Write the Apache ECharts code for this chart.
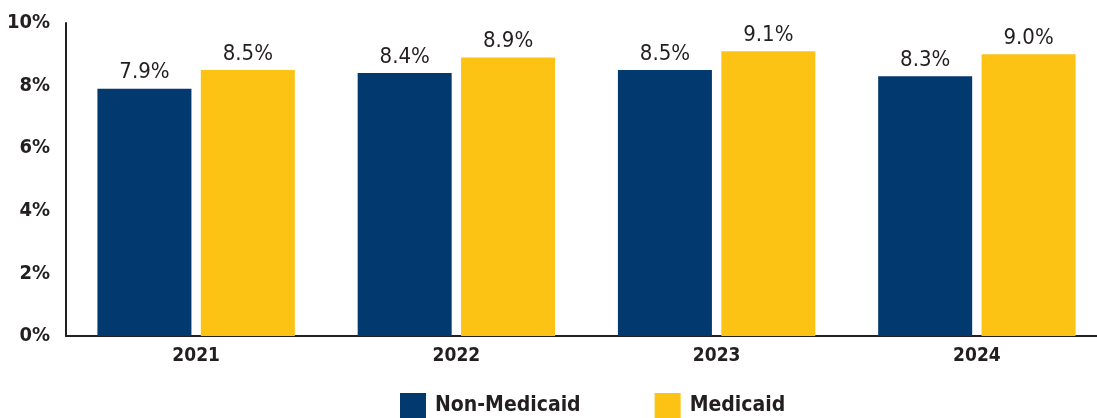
<!DOCTYPE html>
<html>
<head>
<meta charset="utf-8">
<script src="https://cdn.jsdelivr.net/npm/echarts@6/dist/echarts.min.js"></script>
<style>
  html, body { margin: 0; padding: 0; background: #fff; overflow: hidden; }
  #chart { width: 1112px; height: 418px; }
</style>
</head>
<body>
<div id="chart"></div>
<script>
// Share of members by year, Non-Medicaid vs Medicaid (percent)
const years = ['2021', '2022', '2023', '2024'];
const nonMedicaid = [7.9, 8.4, 8.5, 8.3];
const medicaid = [8.5, 8.9, 9.1, 9.0];
const yTicks = [0, 2, 4, 6, 8, 10];

const NAVY = '#023a70';
const GOLD = '#fcc314';
const narrow = '"Liberation Sans Narrow", "DejaVu Sans Condensed", sans-serif';

const chart = echarts.init(document.getElementById('chart'));

const valueLabel = {
  show: true,
  position: 'top',
  distance: 5,
  fontFamily: narrow,
  fontSize: 22,
  fontWeight: 'normal',
  color: '#231f20',
  formatter: p => p.value.toFixed(1) + '%'
};

chart.setOption({
  animation: false,
  grid: { left: 66, width: 1041, top: 23, bottom: 82, containLabel: false },
  legend: {
    top: 393,
    left: 400,
    padding: 0,
    itemWidth: 26,
    itemHeight: 26,
    itemGap: 74,
    icon: 'rect',
    textStyle: { fontFamily: narrow, fontSize: 21, fontWeight: 'bold', color: '#231f20', padding: [0, 0, 0, 4] },
    data: ['Non-Medicaid', 'Medicaid']
  },
  xAxis: {
    type: 'category',
    data: years,
    axisLine: { lineStyle: { color: '#231f20', width: 2 } },
    axisTick: { show: false },
    axisLabel: { fontFamily: narrow, fontSize: 19, fontWeight: 'bold', color: '#231f20', margin: 11 }
  },
  yAxis: {
    type: 'value',
    min: yTicks[0],
    max: yTicks[yTicks.length - 1],
    interval: 2,
    axisLine: { show: true, lineStyle: { color: '#231f20', width: 2 } },
    axisTick: { show: false },
    splitLine: { show: false },
    axisLabel: {
      fontFamily: narrow, fontSize: 20, fontWeight: 'bold', color: '#231f20', margin: 16,
      formatter: v => v + '%'
    }
  },
  series: [
    {
      name: 'Non-Medicaid',
      type: 'bar',
      data: nonMedicaid,
      barWidth: 94,
      barGap: '10%',
      itemStyle: { color: NAVY },
      label: valueLabel
    },
    {
      name: 'Medicaid',
      type: 'bar',
      data: medicaid,
      barWidth: 94,
      itemStyle: { color: GOLD },
      label: valueLabel
    }
  ]
});
</script>
</body>
</html>
